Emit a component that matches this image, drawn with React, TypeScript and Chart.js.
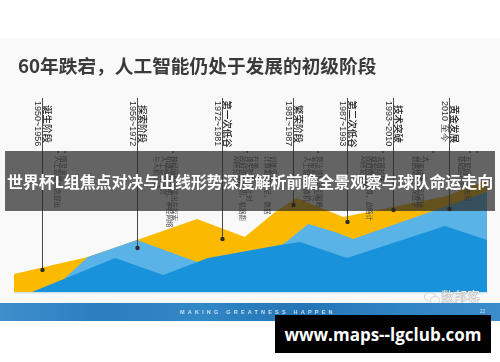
import React, { useEffect, useRef } from "react";
import { Chart, registerables } from "chart.js";
Chart.register(...registerables);

// ---------- text ----------
const TITLE = "60年跌宕，人工智能仍处于发展的初级阶段";
const BANNER = "世界杯L组焦点对决与出线形势深度解析前瞻全景观察与球队命运走向";
const FOOTER = "MAKING GREATNESS HAPPEN";
const PAGE_NO = "22";
const URL_TEXT = "www.maps--lgclub.com";
const BRAND = "数邦客";

// ---------- series (x: timeline position 0-100, y: development level 0-100) ----------
const yellowX = [0, 15.6, 26.0, 38.7, 48.8, 55.2, 59.8, 69.6, 80.1, 91.5, 100];
const yellowY = [9.4, 18.2, 27.1, 38.0, 28.6, 41.7, 49.0, 39.1, 44.3, 50.0, 58.3];
const lightX = [10.8, 15.6, 26.0, 38.7, 41.4, 56.2, 62.2, 67.9, 71.7, 100];
const lightY = [7.3, 18.2, 27.1, 15.6, 15.6, 23.4, 35.4, 31.3, 27.6, 52.1];
const darkX = [3.8, 21.4, 31.5, 41.0, 56.2, 60.5, 70.4, 91.1, 100];
const darkY = [0, 17.7, 8.9, 17.7, 24.5, 26.0, 17.7, 34.4, 27.1];

// ---------- stage markers ----------
const stageX = [5.9, 26.0, 44.0, 59.0, 70.4, 80.1, 92.0];
const stageLevel = [11.5, 22.9, 27.6, 45.3, 36.5, 42.7, 43.2];
const stageYears = ["1950~1956", "1956~1972", "1972~1981", "1981~1987", "1987~1993", "1993~2010", "2010 至今"];
const stageNames = ["诞生阶段", "探索阶段", "第一次低谷", "繁荣阶段", "第二次低谷", "技术突破", "黄金发展"];

// ---------- small event notes ----------
const bulletX = [9.3, 10.8, 33.6, 49.3, 64.3, 78.0, 88.6, 96.4, 97.9];
const noteX = [9.1, 10.4, 30.2, 31.5, 32.8, 34.0, 47.1, 48.4, 49.7, 51.0, 53.5, 54.8, 61.9, 63.2, 64.5, 73.8, 75.1, 76.3, 77.6, 84.8, 86.0, 87.3, 94.5, 95.8];
const noteText = [
  "人工智能概念提出", "图灵测试", "与人机对话", "人工智能语言", "机器定理证明、神经网络", "神经网络被提出与探索",
  "AI研究受挫", "政府停止资助，机器翻", "译失败，停止对", "在美、英", "计算能力不足，数据", "训练受限",
  "人工智能计算机", "专家系统被广泛", "算法领域达到巅峰", "AI研发失败", "政府削减预算，战略计", "划受阻",
  "发展较快", "数据增长、深度学", "习等技术得到突破", "大", "基础层形成，", "互联网巨头布局",
];

const COLORS = { yellow: "#FBBA00", light: "#5AB3E6", dark: "#1992DC" };

const pts = (xs: number[], ys: number[]) => xs.map((x, i) => ({ x, y: ys[i] }));

function vText(ctx: CanvasRenderingContext2D, text: string, x: number, y: number, font: string, color: string, align: CanvasTextAlign) {
  ctx.save();
  ctx.translate(x, y);
  ctx.rotate(Math.PI / 2);
  ctx.font = font;
  ctx.fillStyle = color;
  ctx.textAlign = align;
  ctx.textBaseline = "middle";
  ctx.fillText(text, 0, 0);
  ctx.restore();
}

const decor = {
  id: "decor",
  beforeDraw(chart: any) {
    const { ctx, width, height } = chart;
    ctx.save();
    ctx.fillStyle = "#ffffff";
    ctx.fillRect(0, 0, width, height);
    ctx.fillStyle = "#f9f9f9";
    ctx.fillRect(0, 38, width, 265);
    ctx.restore();
  },
  afterDatasetsDraw(chart: any) {
    const { ctx, chartArea } = chart;
    const xs = chart.scales.x;
    const ys = chart.scales.y;
    ctx.save();
    // baseline
    ctx.strokeStyle = "#cfe5f2";
    ctx.lineWidth = 1.5;
    ctx.beginPath();
    ctx.moveTo(chartArea.left, chartArea.bottom + 0.8);
    ctx.lineTo(chartArea.right, chartArea.bottom + 0.8);
    ctx.stroke();
    // stage lines + labels
    stageX.forEach((sx, i) => {
      const px = Math.round(xs.getPixelForValue(sx)) + 0.5;
      const py = ys.getPixelForValue(stageLevel[i]);
      ctx.strokeStyle = "#4a4a4a";
      ctx.lineWidth = 1;
      ctx.beginPath();
      ctx.moveTo(px, chartArea.top - 2);
      ctx.lineTo(px, py);
      ctx.stroke();
      ctx.fillStyle = "#2a2a2a";
      ctx.beginPath();
      ctx.arc(px, py, 2.2, 0, Math.PI * 2);
      ctx.fill();
      vText(ctx, stageYears[i], px - 5, chartArea.top + 1, "9px 'Liberation Sans', Arial, sans-serif", "#2a2a2a", "left");
      vText(ctx, stageNames[i], px + 5, chartArea.top + 24, "500 9.5px 'Noto Sans CJK SC', sans-serif", "#222", "center");
    });
    // bullets
    ctx.fillStyle = "#444";
    bulletX.forEach((bx) => {
      ctx.beginPath();
      ctx.arc(xs.getPixelForValue(bx), 152, 0.9, 0, Math.PI * 2);
      ctx.fill();
    });
    // notes
    noteX.forEach((nx, i) => {
      vText(ctx, noteText[i], xs.getPixelForValue(nx), 156, "6.5px 'Noto Sans CJK SC', sans-serif", "#555", "left");
    });
    ctx.restore();
  },
  afterDraw(chart: any) {
    const { ctx } = chart;
    ctx.save();
    ctx.font = "bold 18.7px 'Noto Sans CJK SC', sans-serif";
    ctx.fillStyle = "#3a3a3a";
    ctx.textAlign = "left";
    ctx.textBaseline = "middle";
    ctx.fillText(TITLE, 18, 65.5);
    ctx.restore();
  },
};

export default function App() {
  const ref = useRef<HTMLCanvasElement | null>(null);
  useEffect(() => {
    if (!ref.current) return;
    const chart = new Chart(ref.current, {
      type: "line",
      data: {
        datasets: [
          { label: "yellow", data: pts(yellowX, yellowY), backgroundColor: COLORS.yellow, borderColor: "rgba(0,0,0,0)", borderWidth: 0, pointRadius: 0, fill: "origin", tension: 0, order: 3 },
          { label: "light", data: pts(lightX, lightY), backgroundColor: COLORS.light, borderColor: "rgba(0,0,0,0)", borderWidth: 0, pointRadius: 0, fill: "origin", tension: 0, order: 2 },
          { label: "dark", data: pts(darkX, darkY), backgroundColor: COLORS.dark, borderColor: "rgba(0,0,0,0)", borderWidth: 0, pointRadius: 0, fill: "origin", tension: 0, order: 1 },
        ],
      } as any,
      options: {
        animation: false,
        responsive: false,
        devicePixelRatio: 1,
        layout: { padding: { left: 14, right: 13, top: 100, bottom: 70 } },
        scales: {
          x: { type: "linear", min: 0, max: 100, display: false },
          y: { min: 0, max: 100, display: false },
        },
        plugins: { legend: { display: false }, tooltip: { enabled: false }, title: { display: false } },
        events: [],
      } as any,
      plugins: [decor],
    });
    return () => chart.destroy();
  }, []);

  return (
    <div style={{ position: "absolute", left: 0, top: 0, width: 500, height: 362, overflow: "hidden", background: "#fff" }}>
      <canvas ref={ref} width={500} height={362} style={{ display: "block", width: 500, height: 362 }} />
      {/* brand mark */}
      <div style={{ position: "absolute", left: 424, top: 292, width: 10, height: 8, borderRadius: "50%", border: "1.5px solid #d8d8d8" }} />
      <div style={{ position: "absolute", left: 430, top: 296, width: 8, height: 7, borderRadius: "50%", border: "1.5px solid #d8d8d8", background: "#f9f9f9" }} />
      <div style={{ position: "absolute", left: 441, top: 288, fontFamily: "'Noto Sans CJK SC', sans-serif", fontSize: 13, color: "#f4f4f4", textShadow: "0 0 1px #888, 0 0 1px #888", lineHeight: "16px" }}>{BRAND}</div>
      {/* footer band */}
      <div style={{ position: "absolute", left: 0, top: 303, width: 500, height: 18, background: "linear-gradient(90deg, #3f8fcc 0%, #2a7dbf 20%, #3287c6 40%, #2475b6 60%, #2f84c4 80%, #3a8dca 100%)" }}>
        <div style={{ position: "absolute", left: 180, top: 5, fontFamily: "'Liberation Sans', Arial, sans-serif", fontSize: 5.5, letterSpacing: 3.2, color: "rgba(235,240,248,0.85)", fontWeight: 700, lineHeight: "8px", whiteSpace: "nowrap" }}>{FOOTER}</div>
        <div style={{ position: "absolute", left: 480, top: 6, fontFamily: "'Liberation Sans', Arial, sans-serif", fontSize: 4.5, color: "rgba(235,240,248,0.85)", lineHeight: "6px" }}>{PAGE_NO}</div>
      </div>
      {/* overlay banner */}
      <div style={{ position: "absolute", left: 5, top: 151, width: 490, height: 60, background: "rgba(42,42,42,0.72)", display: "flex", alignItems: "center", justifyContent: "center" }}>
        <span style={{ fontFamily: "'Noto Sans CJK SC', sans-serif", fontWeight: 700, fontSize: 16, color: "#fff", whiteSpace: "nowrap", letterSpacing: -0.1 }}>{BANNER}</span>
      </div>
      {/* url box */}
      <div style={{ position: "absolute", left: 275, top: 315, width: 216, height: 38, background: "#000", display: "flex", alignItems: "center", justifyContent: "center" }}>
        <span style={{ fontFamily: "'Open Sans', 'DejaVu Sans', sans-serif", fontWeight: 700, fontSize: 17, color: "#fff", whiteSpace: "nowrap" }}>{URL_TEXT}</span>
      </div>
    </div>
  );
}
